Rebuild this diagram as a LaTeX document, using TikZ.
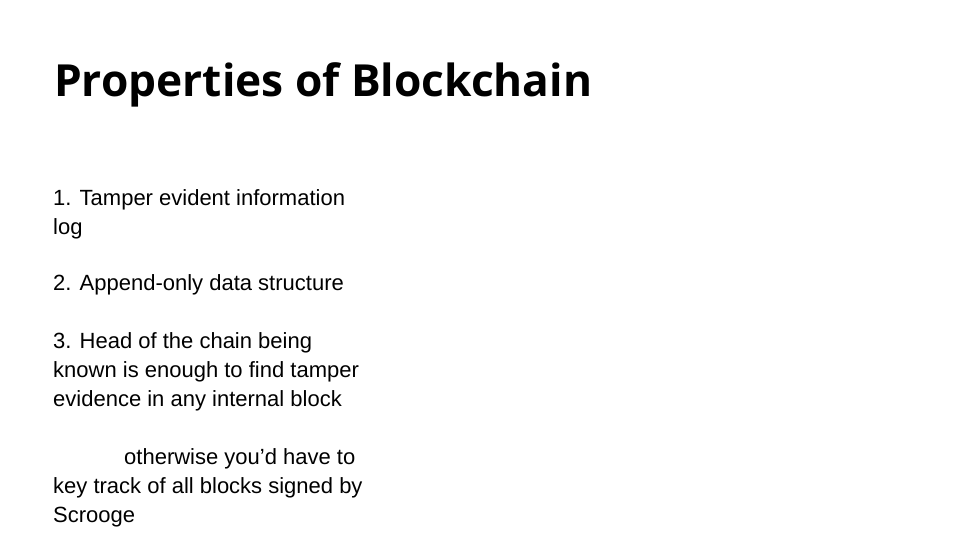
\documentclass[tikz,border=0pt]{standalone}
\usepackage{fontspec}
\setmainfont{Liberation Sans}
\newfontfamily\titlefont{Open Sans}
\begin{document}
\begin{tikzpicture}[x=1pt,y=-1pt,
  body/.style={anchor=base west,inner sep=0pt,font=\fontsize{22}{26}\selectfont},
  ttl/.style={anchor=base west,inner sep=0pt,font=\titlefont\bfseries\fontsize{44}{50}\selectfont}]
\useasboundingbox[fill=white] (0,0) rectangle (960,540);
\node[ttl] (t) at (54,97) {\resizebox{538pt}{!}{Properties of Blockchain}};
\node[body] (l1) at (53,205) {1. Tamper evident information};
\node[body] (l2) at (53,234) {log};
\node[body] (l3) at (53,290) {2. Append-only data structure};
\node[body] (l4) at (53,348) {3. Head of the chain being};
\node[body] (l5) at (53,377) {known is enough to find tamper};
\node[body] (l6) at (53,406) {evidence in any internal block};
\node[body] (l7) at (124,464) {otherwise you’d have to};
\node[body] (l8) at (53,493) {key track of all blocks signed by};
\node[body] (l9) at (53,522) {Scrooge};
\end{tikzpicture}
\end{document}
